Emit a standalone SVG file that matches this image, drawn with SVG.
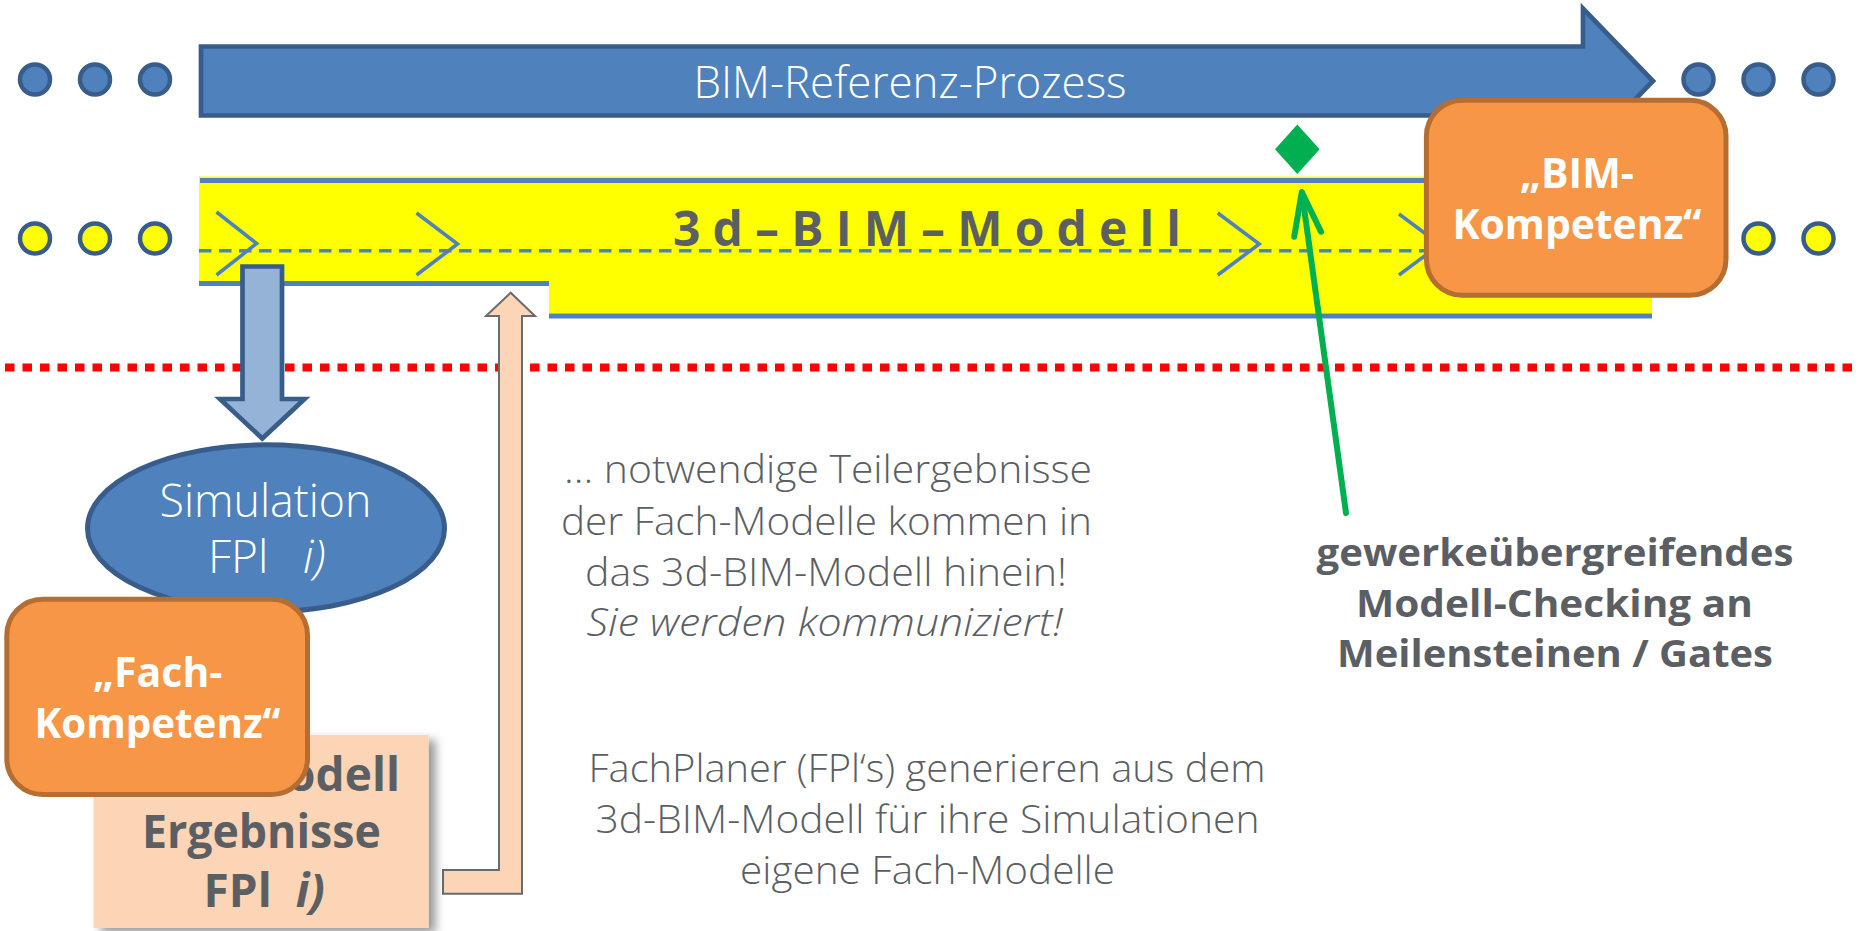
<svg xmlns="http://www.w3.org/2000/svg" width="1860" height="931" viewBox="0 0 1860 931">
  <style>
    .dotB { fill: #4f81bd; stroke: #385d8a; stroke-width: 4.5; }
    .dotY { fill: #ffff00; stroke: #385d8a; stroke-width: 4.5; }
    .chev { fill: none; stroke: #4f81bd; stroke-width: 3.5; }
    .bline { stroke: #4f81bd; stroke-width: 5; }
    .orange { fill: #f79646; stroke: #b66d31; stroke-width: 5; }
    .wbold { font-family: "Open Sans", "Liberation Sans", sans-serif; font-weight: 700; fill: #ffffff; text-anchor: middle; }
    .light { font-family: "Open Sans", "Liberation Sans", sans-serif; font-weight: 300; }
    .gray { fill: #5b5f63; }
    .gbold { font-family: "Open Sans", "Liberation Sans", sans-serif; font-weight: 700; fill: #5b5f63; text-anchor: middle; }
  </style>
  <defs>
    <filter id="shadow" x="-10%" y="-10%" width="130%" height="130%">
      <feDropShadow dx="7" dy="5" stdDeviation="5" flood-color="#000000" flood-opacity="0.4"/>
    </filter>
  </defs>

  <rect x="0" y="0" width="1860" height="931" fill="#ffffff"/>

  <!-- red dotted separator -->
  <line id="separator" x1="5" y1="367.5" x2="1858" y2="367.5" stroke="#ff0000" stroke-width="8" stroke-dasharray="9.5 8"/>

  <!-- BIM reference process arrow -->
  <g id="bim-referenz-prozess">
    <path d="M201,46.5 H1583 V8.5 L1653,81 L1583,153.5 V115.5 H201 Z" fill="#4f81bd" stroke="#385d8a" stroke-width="4.7"/>
    <text x="910" y="98" class="light" font-size="45" fill="#ffffff" text-anchor="middle" textLength="433" lengthAdjust="spacingAndGlyphs">BIM-Referenz-Prozess</text>
  </g>

  <!-- 3d BIM model band -->
  <g id="bim-modell">
    <path d="M199,176.5 H1652 V313.5 H549 V281 H199 Z" fill="#ffff00"/>
    <line class="bline" x1="200" y1="180.5" x2="1652" y2="180.5"/>
    <line class="bline" x1="199" y1="283.5" x2="549" y2="283.5"/>
    <line class="bline" x1="549" y1="316" x2="1652" y2="316"/>
    <line x1="199" y1="250.7" x2="1440" y2="250.7" stroke="#4f81bd" stroke-width="3.5" stroke-dasharray="12.5 7.5"/>
    <polyline class="chev" points="216.5,212 256.7,243.5 216.5,275"/>
    <polyline class="chev" points="416.5,213 457.6,244 416.5,275"/>
    <polyline class="chev" points="1217.8,213 1259.3,244 1217.8,275"/>
    <polyline class="chev" points="1399,214 1440,244.5 1399,275"/>
    <text x="673" y="246" font-family="Open Sans, Liberation Sans, sans-serif" font-weight="700" font-size="48" class="gray" textLength="508" lengthAdjust="spacing">3d–BIM–Modell</text>
  </g>

  <!-- dots -->
  <g id="dots-left-blue">
    <circle class="dotB" cx="35" cy="79.5" r="15"/>
    <circle class="dotB" cx="95" cy="79.5" r="15"/>
    <circle class="dotB" cx="155" cy="79.5" r="15"/>
  </g>
  <g id="dots-right-blue">
    <circle class="dotB" cx="1698.5" cy="79.5" r="15"/>
    <circle class="dotB" cx="1758.5" cy="79.5" r="15"/>
    <circle class="dotB" cx="1818.5" cy="79.5" r="15"/>
  </g>
  <g id="dots-left-yellow">
    <circle class="dotY" cx="35" cy="238.5" r="15"/>
    <circle class="dotY" cx="95" cy="238.5" r="15"/>
    <circle class="dotY" cx="155" cy="238.5" r="15"/>
  </g>
  <g id="dots-right-yellow">
    <circle class="dotY" cx="1758.5" cy="238.5" r="15"/>
    <circle class="dotY" cx="1818.5" cy="238.5" r="15"/>
  </g>

  <!-- milestone diamond -->
  <g id="milestone">
    <polygon points="1297.3,124.5 1319.6,149.2 1297.3,174 1275,149.2" fill="#00b050"/>
  </g>

  <!-- connectors -->
  <g id="connectors">
    <path id="arrow-down" d="M242.5,266.5 H282 V399 H304.5 L262.3,438.5 L220,399 H242.5 Z" fill="#95b3d7" stroke="#385d8a" stroke-width="4.7" stroke-linejoin="miter"/>
    <path id="arrow-return" d="M443,870 H499 V316 H486 L510.7,292.7 L535,316 H522 V893.7 H443 Z" fill="#fbd5b5" stroke="#6b6b6b" stroke-width="2"/>
    <g id="arrow-check" fill="none" stroke="#00b050" stroke-width="6" stroke-linecap="round" stroke-linejoin="round">
      <line x1="1346" y1="513" x2="1302" y2="193"/>
      <polyline points="1294.2,236.7 1301.8,192 1321,231.7"/>
    </g>
  </g>

  <!-- BIM-Kompetenz -->
  <g id="bim-kompetenz">
    <rect class="orange" x="1426.4" y="100.2" width="299.6" height="195" rx="36" ry="36"/>
    <text class="wbold" x="1577" y="188" font-size="41">„BIM-</text>
    <text class="wbold" x="1577" y="239" font-size="41" textLength="249" lengthAdjust="spacingAndGlyphs">Kompetenz“</text>
  </g>

  <!-- text block 1 -->
  <g id="note-teilergebnisse" class="light gray" font-size="38" text-anchor="middle">
    <text x="828" y="483" textLength="528" lengthAdjust="spacingAndGlyphs">… notwendige Teilergebnisse</text>
    <text x="826.5" y="535" textLength="531" lengthAdjust="spacingAndGlyphs">der Fach-Modelle kommen in</text>
    <text x="826" y="586" textLength="482" lengthAdjust="spacingAndGlyphs">das 3d-BIM-Modell hinein!</text>
    <text x="824.5" y="636" font-style="italic" textLength="476" lengthAdjust="spacingAndGlyphs">Sie werden kommuniziert!</text>
  </g>

  <!-- text block 2 -->
  <g id="note-fachplaner" class="light gray" font-size="38" text-anchor="middle">
    <text x="927" y="782" textLength="677" lengthAdjust="spacingAndGlyphs">FachPlaner (FPl‘s) generieren aus dem</text>
    <text x="927.5" y="833" textLength="664" lengthAdjust="spacingAndGlyphs">3d-BIM-Modell für ihre Simulationen</text>
    <text x="927.5" y="884" textLength="375" lengthAdjust="spacingAndGlyphs">eigene Fach-Modelle</text>
  </g>

  <!-- text block 3 -->
  <g id="note-checking" class="gbold" font-size="38">
    <text x="1555" y="566" textLength="477" lengthAdjust="spacingAndGlyphs">gewerkeübergreifendes</text>
    <text x="1554.5" y="617" textLength="397" lengthAdjust="spacingAndGlyphs">Modell-Checking an</text>
    <text x="1555" y="667" textLength="436" lengthAdjust="spacingAndGlyphs">Meilensteinen / Gates</text>
  </g>

  <!-- Simulation ellipse -->
  <g id="simulation">
    <ellipse cx="266" cy="528.3" rx="178.5" ry="83.5" fill="#4f81bd" stroke="#385d8a" stroke-width="5"/>
    <text x="265.5" y="517" class="light" font-size="46" fill="#ffffff" text-anchor="middle" textLength="212" lengthAdjust="spacingAndGlyphs">Simulation</text>
    <text y="573" class="light" font-size="46" fill="#ffffff"><tspan x="208">FPl</tspan><tspan x="303" font-style="italic">i)</tspan></text>
  </g>

  <!-- Fach-Modell Ergebnisse -->
  <g id="fach-modell-ergebnisse">
    <rect x="93.6" y="735" width="335" height="193" fill="#fbd5b5" filter="url(#shadow)"/>
    <text class="gbold" x="261" y="791" font-size="46">Fach-Modell</text>
    <text class="gbold" x="261.4" y="848" font-size="46" textLength="239" lengthAdjust="spacingAndGlyphs">Ergebnisse</text>
    <text y="907" font-family="Open Sans, Liberation Sans, sans-serif" font-weight="700" font-size="46" class="gray"><tspan x="203.5">FPl</tspan><tspan x="295.7" font-style="italic">i)</tspan></text>
  </g>

  <!-- Fach-Kompetenz -->
  <g id="fach-kompetenz">
    <rect class="orange" x="6.8" y="599.2" width="300.7" height="195.3" rx="36" ry="36"/>
    <text class="wbold" x="157.8" y="687" font-size="41">„Fach-</text>
    <text class="wbold" x="157.5" y="738" font-size="41" textLength="246" lengthAdjust="spacingAndGlyphs">Kompetenz“</text>
  </g>
</svg>
